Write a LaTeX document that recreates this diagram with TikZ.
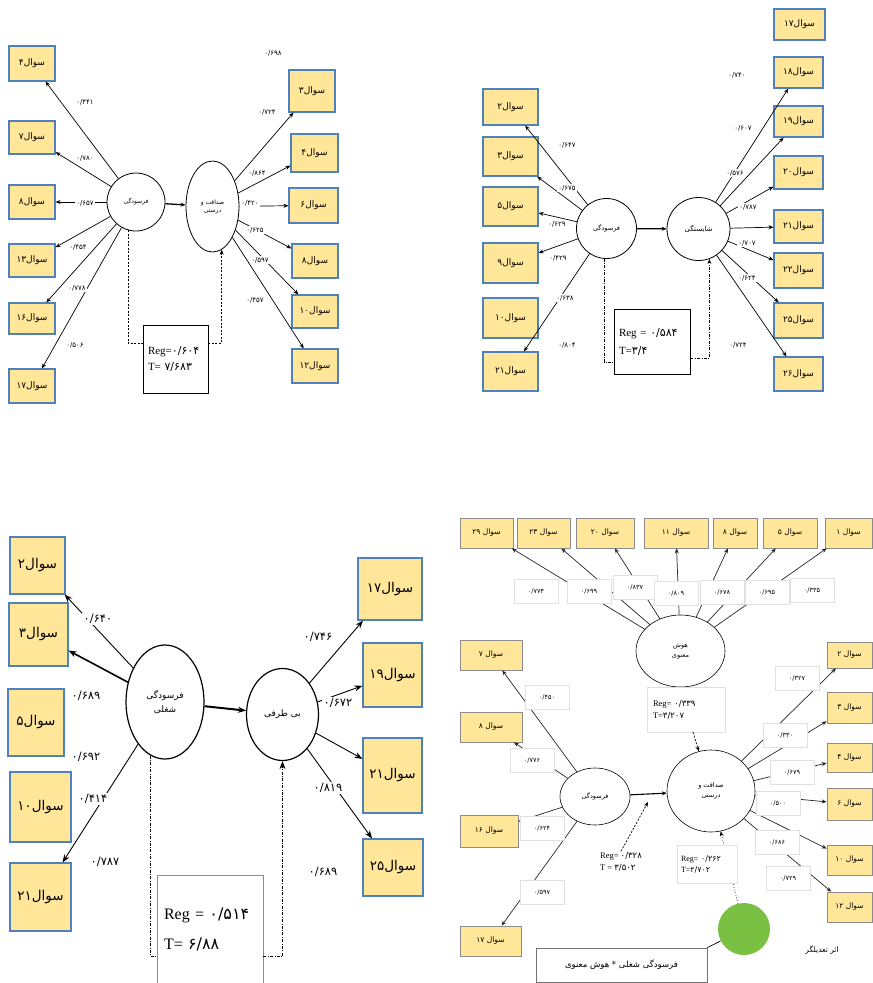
\documentclass[tikz,border=0pt]{standalone}
\usepackage{fontspec}
\setmainfont{Liberation Serif}
\newfontfamily\arabicfont[Script=Arabic]{DejaVu Sans}
\TeXXeTstate=1
\usetikzlibrary{arrows.meta,shapes.geometric,calc}
\definecolor{qfill}{RGB}{255,230,153}
\definecolor{qedge}{RGB}{79,129,189}
\definecolor{qgreen}{RGB}{122,192,66}
\newcommand\fa[1]{{\arabicfont\beginR #1\endR}}
\newcommand\fn[1]{{\arabicfont #1}}
\newcommand\sq[1]{{\arabicfont #1\beginR سوال\endR}}
\newcommand\sqs[1]{{\arabicfont #1 \beginR سوال\endR}}
\begin{document}
\begin{tikzpicture}[x=1pt,y=-1pt,
 qbox/.style={draw=qedge, fill=qfill, line width=1.1pt, inner sep=0pt},
 gbox/.style={draw=black!45, fill=qfill, line width=0.7pt, inner sep=0pt, font=\fontsize{7.5}{8}\selectfont},
 lv/.style={draw, ellipse, inner sep=0pt, align=center, line width=0.8pt},
 con/.style={line width=0.7pt},
 arr/.style={-{Stealth[length=5pt,width=4pt]}},
 bigarr/.style={-{Stealth[length=8pt,width=6pt]}},
 lbl/.style={fill=white, inner sep=1pt, font=\fontsize{7}{8}\selectfont},
 lblc/.style={fill=white, inner sep=1.5pt, font=\fontsize{11.5}{12}\selectfont},
 lbld/.style={fill=white, draw=black!12, inner sep=1pt, minimum width=44pt, minimum height=24pt, font=\fontsize{6.5}{7}\selectfont},
 dsh/.style={con, dash pattern=on 2pt off 1.5pt},
 dshd/.style={con, dash pattern=on 3pt off 1.5pt on 0.7pt off 1.5pt},
 f9/.style={font=\fontsize{9}{10}\selectfont},
 f13/.style={font=\fontsize{13.5}{14}\selectfont},
 regbox/.style={draw, line width=0.8pt, inner ysep=0pt, align=left},
]
\useasboundingbox (0,0) rectangle (873,983);

% ================= Panel 1 =================
\node[lv, minimum width=58pt, minimum height=58pt, font=\fontsize{6}{7}\selectfont] (c1) at (136,202) {\fa{فرسودگی}};
\node[lv, minimum width=53pt, minimum height=91pt, font=\fontsize{6}{8}\selectfont] (e1) at (212.5,206.5) {\fa{صداقت و}\\\fa{درستی}};
\node[qbox,f9,minimum width=46pt,minimum height=35pt] (p1a) at (32,63.5) {\sq{۴}};
\node[qbox,f9,minimum width=46pt,minimum height=33pt] (p1b) at (32,137.5) {\sq{۷}};
\node[qbox,f9,minimum width=46pt,minimum height=34pt] (p1c) at (32,202) {\sq{۸}};
\node[qbox,f9,minimum width=46pt,minimum height=33pt] (p1d) at (32,260.5) {\sq{۱۳}};
\node[qbox,f9,minimum width=46pt,minimum height=31pt] (p1e) at (32,318.5) {\sq{۱۶}};
\node[qbox,f9,minimum width=46pt,minimum height=34pt] (p1f) at (32,386) {\sq{۱۷}};
\node[qbox,f9,minimum width=46pt,minimum height=42pt] (p1g) at (312,91) {\sq{۳}};
\node[qbox,f9,minimum width=47pt,minimum height=38pt] (p1h) at (314.5,153) {\sq{۴}};
\node[qbox,f9,minimum width=49pt,minimum height=35pt] (p1i) at (313.5,205.5) {\sq{۶}};
\node[qbox,f9,minimum width=46pt,minimum height=34pt] (p1j) at (315,261) {\sq{۸}};
\node[qbox,f9,minimum width=46pt,minimum height=33pt] (p1k) at (315,311.5) {\sq{۱۰}};
\node[qbox,f9,minimum width=46pt,minimum height=34pt] (p1l) at (315,366) {\sq{۱۲}};
\node[regbox, text width=55pt, inner xsep=5pt, minimum height=68pt, font=\fontsize{11}{16}\selectfont] (r1) at (175.5,359) {Reg=\fn{۰/۶۰۴}\\T= \fn{۷/۶۸۳}};
\foreach \b in {p1a,p1b,p1c,p1d,p1e,p1f} \draw[con,arr] (c1) -- (\b);
\foreach \b in {p1g,p1h,p1i,p1j,p1k,p1l} \draw[con,arr] (e1) -- (\b);
\draw[line width=1.3pt,arr] (c1) -- (e1);
\draw[dsh] (c1.254) |- ([yshift=16pt]r1.west);
\draw[dsh,arr] ([yshift=16pt]r1.east) -| (e1.-78);
\node[lbl] (v1a) at (85,102) {\fn{۰/۴۴۱}};
\node[lbl] (v1b) at (85,158) {\fn{۰/۷۸۰}};
\node[lbl] (v1c) at (85,203) {\fn{۰/۶۵۷}};
\node[lbl] (v1d) at (78,247) {\fn{۰/۴۵۴}};
\node[lbl] (v1e) at (77,288) {\fn{۰/۷۷۸}};
\node[lbl] (v1f) at (75,345) {\fn{۰/۵۰۶}};
\node[lbl] (v1g) at (273,53) {\fn{۰/۶۹۸}};
\node[lbl] (v1h) at (267,112) {\fn{۰/۷۲۴}};
\node[lbl] (v1i) at (257,173) {\fn{۰/۸۶۴}};
\node[lbl] (v1j) at (250,203) {\fn{۰/۴۲۰}};
\node[lbl] (v1k) at (255,230) {\fn{۰/۶۲۵}};
\node[lbl] (v1l) at (260,260) {\fn{۰/۵۹۷}};
\node[lbl] (v1m) at (255,300) {\fn{۰/۴۵۷}};

% ================= Panel 2 =================
\node[lv, minimum width=60pt, minimum height=60pt, font=\fontsize{6.5}{7}\selectfont] (c2) at (606.5,228.5) {\fa{فرسودگی}};
\node[lv, minimum width=63pt, minimum height=63pt, font=\fontsize{7}{8}\selectfont] (s2) at (698.5,229) {\fa{شایستگی}};
\node[qbox,f9,minimum width=55pt,minimum height=36pt] (p2a) at (510.5,107) {\sq{۲}};
\node[qbox,f9,minimum width=55pt,minimum height=39pt] (p2b) at (510.5,156.5) {\sq{۳}};
\node[qbox,f9,minimum width=55pt,minimum height=39pt] (p2c) at (510.5,206.5) {\sq{۵}};
\node[qbox,f9,minimum width=55pt,minimum height=40pt] (p2d) at (510.5,263) {\sq{۹}};
\node[qbox,f9,minimum width=55pt,minimum height=40pt] (p2e) at (510.5,318) {\sq{۱۰}};
\node[qbox,f9,minimum width=55pt,minimum height=39pt] (p2f) at (510.5,371.5) {\sq{۲۱}};
\node[qbox,f9,minimum width=51pt,minimum height=31pt] (p2g) at (799.5,24.5) {\sq{۱۷}};
\node[qbox,f9,minimum width=49pt,minimum height=31pt] (p2h) at (798.5,72.5) {\sq{۱۸}};
\node[qbox,f9,minimum width=49pt,minimum height=31pt] (p2i) at (798.5,121.5) {\sq{۱۹}};
\node[qbox,f9,minimum width=49pt,minimum height=33pt] (p2j) at (798.5,172.5) {\sq{۲۰}};
\node[qbox,f9,minimum width=49pt,minimum height=33pt] (p2k) at (798.5,226.5) {\sq{۲۱}};
\node[qbox,f9,minimum width=49pt,minimum height=35pt] (p2l) at (798.5,270.5) {\sq{۲۲}};
\node[qbox,f9,minimum width=49pt,minimum height=35pt] (p2m) at (798.5,320.5) {\sq{۲۵}};
\node[qbox,f9,minimum width=49pt,minimum height=34pt] (p2n) at (798.5,374) {\sq{۲۶}};
\node[regbox, text width=66pt, inner xsep=5pt, minimum height=65pt, font=\fontsize{11}{18}\selectfont] (r2) at (652,341.5) {Reg = \fn{۰/۵۸۴}\\T=\fn{۳/۴}};
\foreach \b in {p2a,p2b,p2c,p2d,p2f} \draw[con,arr] (c2) -- (\b);
\foreach \b in {p2h,p2i,p2j,p2k,p2l,p2m,p2n} \draw[con,arr] (s2) -- (\b);
\draw[line width=1.3pt,arr] (c2) -- (s2);
\draw[dshd] (c2.265) |- ([yshift=-20.5pt]r2.west);
\draw[dshd,arr] ([yshift=-16.5pt]r2.east) -| (s2.-70);
\node[lbl] (v2a) at (567,145) {\fn{۰/۶۴۷}};
\node[lbl] (v2b) at (567,188) {\fn{۰/۶۷۵}};
\node[lbl] (v2c) at (557,224) {\fn{۰/۶۲۹}};
\node[lbl] (v2d) at (558,258) {\fn{۰/۴۲۹}};
\node[lbl] (v2e) at (565,298) {\fn{۰/۶۳۸}};
\node[lbl] (v2f) at (567,345) {\fn{۰/۸۰۴}};
\node[lbl] (v2g) at (737,75) {\fn{۰/۷۴۰}};
\node[lbl] (v2h) at (743,128) {\fn{۰/۶۰۷}};
\node[lbl] (v2i) at (735,173) {\fn{۰/۵۷۶}};
\node[lbl] (v2j) at (748,207) {\fn{۰/۷۸۷}};
\node[lbl] (v2k) at (747,243) {\fn{۰/۷۰۷}};
\node[lbl] (v2l) at (747,278) {\fn{۰/۶۲۴}};
\node[lbl] (v2m) at (738,345) {\fn{۰/۷۲۴}};

% ================= Panel 3 =================
\node[lv, line width=1.2pt, minimum width=78pt, minimum height=114pt, font=\fontsize{9}{14}\selectfont] (f3) at (165,702) {\fa{فرسودگی}\\\fa{شغلی}};
\node[lv, line width=1.2pt, minimum width=72pt, minimum height=92pt, font=\fontsize{9}{10}\selectfont] (b3) at (282.5,714.5) {\fa{بی طرفی}};
\node[qbox,f13,minimum width=55pt,minimum height=57pt] (p3a) at (37.5,565.5) {\sq{۲}};
\node[qbox,f13,minimum width=59pt,minimum height=63pt] (p3b) at (38.5,634.5) {\sq{۳}};
\node[qbox,f13,minimum width=56pt,minimum height=67pt] (p3c) at (36,722.5) {\sq{۵}};
\node[qbox,f13,minimum width=61pt,minimum height=70pt] (p3d) at (40.5,807) {\sq{۱۰}};
\node[qbox,f13,minimum width=61pt,minimum height=68pt] (p3e) at (40.5,897) {\sq{۲۱}};
\node[qbox,f13,minimum width=64pt,minimum height=62pt] (p3f) at (390,589) {\sq{۱۷}};
\node[qbox,f13,minimum width=59pt,minimum height=64pt] (p3g) at (392.5,675) {\sq{۱۹}};
\node[qbox,f13,minimum width=59pt,minimum height=75pt] (p3h) at (392.5,775.5) {\sq{۲۱}};
\node[qbox,f13,minimum width=60pt,minimum height=57pt] (p3i) at (393,867.5) {\sq{۲۵}};
\node[regbox, draw=black!45, text width=92pt, inner xsep=7pt, minimum height=108pt, font=\fontsize{16}{30}\selectfont] (r3) at (210,929) {Reg = \fn{۰/۵۱۴}\\T= \fn{۶/۸۸}};
\draw[line width=0.9pt,bigarr] (f3) -- (p3a);
\draw[line width=1.6pt,bigarr] (f3) -- (p3b);
\draw[line width=0.9pt,bigarr] (f3) -- (p3e);
\foreach \b in {p3f,p3g,p3h,p3i} \draw[line width=0.9pt,bigarr] (b3) -- (\b);
\draw[line width=2pt,bigarr] (f3) -- (b3);
\draw[dshd] (f3.255) |- ([yshift=-27.5pt]r3.west);
\draw[dshd,bigarr] ([yshift=-27.5pt]r3.east) -| (b3.south);
\node[lblc] (v3a) at (98,619) {\fn{۰/۶۴۰}};
\node[lblc] (v3b) at (86,696) {\fn{۰/۶۸۹}};
\node[lblc] (v3c) at (86,757) {\fn{۰/۶۹۲}};
\node[lblc] (v3d) at (93,799) {\fn{۰/۴۱۴}};
\node[lblc] (v3e) at (105,862) {\fn{۰/۷۸۷}};
\node[lblc] (v3f) at (318,637) {\fn{۰/۷۴۶}};
\node[lblc] (v3g) at (338,703) {\fn{۰/۶۷۲}};
\node[lblc] (v3h) at (328,788) {\fn{۰/۸۱۹}};
\node[lblc] (v3i) at (323,872) {\fn{۰/۶۸۹}};

% ================= Panel 4 =================
\node[lv, line width=0.6pt, minimum width=89pt, minimum height=72pt, font=\fontsize{6.5}{10}\selectfont] (h4) at (680.5,651) {\fa{هوش}\\\fa{معنوی}};
\node[lv, line width=0.6pt, minimum width=70pt, minimum height=57pt, font=\fontsize{6.5}{7}\selectfont] (fa4) at (595,796.5) {\fa{فرسودگی}};
\node[lv, line width=0.6pt, minimum width=88pt, minimum height=82pt, font=\fontsize{6.5}{10}\selectfont] (sd4) at (711,791) {\fa{صداقت و}\\\fa{درستی}};
\node[gbox,minimum width=53pt,minimum height=30pt] (t1) at (486.5,533) {\sqs{۲۹}};
\node[gbox,minimum width=53pt,minimum height=30pt] (t2) at (543.5,533) {\sqs{۲۳}};
\node[gbox,minimum width=58pt,minimum height=30pt] (t3) at (605,533) {\sqs{۲۰}};
\node[gbox,minimum width=64pt,minimum height=30pt] (t4) at (676,533) {\sqs{۱۱}};
\node[gbox,minimum width=44pt,minimum height=30pt] (t5) at (735,533) {\sqs{۸}};
\node[gbox,minimum width=54pt,minimum height=30pt] (t6) at (790,533) {\sqs{۵}};
\node[gbox,minimum width=47pt,minimum height=30pt] (t7) at (848.5,533) {\sqs{۱}};
\node[gbox,minimum width=62pt,minimum height=30pt] (l1) at (491,655) {\sqs{۷}};
\node[gbox,minimum width=62pt,minimum height=30pt] (l2) at (491,727) {\sqs{۸}};
\node[gbox,minimum width=58pt,minimum height=32pt] (l3) at (489,831) {\sqs{۱۶}};
\node[gbox,minimum width=61pt,minimum height=30pt] (l4) at (490.5,941) {\sqs{۱۷}};
\node[gbox,minimum width=45pt,minimum height=26pt] (q1) at (849.5,655) {\sqs{۲}};
\node[gbox,minimum width=45pt,minimum height=31pt] (q2) at (849.5,707.5) {\sqs{۳}};
\node[gbox,minimum width=45pt,minimum height=29pt] (q3) at (849.5,757.5) {\sqs{۴}};
\node[gbox,minimum width=45pt,minimum height=32pt] (q4) at (849.5,804) {\sqs{۶}};
\node[gbox,minimum width=45pt,minimum height=30pt] (q5) at (849.5,860) {\sqs{۱۰}};
\node[gbox,minimum width=45pt,minimum height=30pt] (q6) at (849.5,907) {\sqs{۱۲}};
\node[circle, fill=qgreen, minimum size=52pt, inner sep=0pt] (g) at (744,929) {};
\node[draw=black!55, line width=0.7pt, minimum width=171pt, minimum height=34pt, inner sep=0pt, font=\fontsize{8.5}{9}\selectfont] (mbox) at (621.5,965) {\fa{فرسودگی شغلی * هوش معنوی}};
\node[font=\fontsize{7.5}{8}\selectfont] (moder) at (822,950) {\fa{اثر تعدیلگر}};
\node[fill=white, draw=black!12, text width=66pt, inner xsep=6pt, minimum height=45pt, align=left, font=\fontsize{8.5}{12}\selectfont] (r4a) at (686,709.5) {Reg= \fn{۰/۳۳۹}\\T=\fn{۳/۲۰۷}};
\coordinate (m4) at (648,802);
\foreach \b in {t1,t2,t3,t4,t5,t6,t7} \draw[con,arr,black!85] (h4) -- (\b);
\foreach \b in {l1,l2,l3,l4} \draw[con,arr,black!85] (fa4) -- (\b);
\foreach \b in {q1,q2,q3,q4,q5,q6} \draw[con,arr,black!85] (sd4) -- (\b);
\draw[line width=1.1pt,arr] (fa4) -- (sd4);
\draw[con] (h4) -- (r4a);
\draw[dsh,arr] (r4a) -- (sd4);
\draw[con,dotted,arr] (g) -- (sd4);
\draw[con] (mbox.north east) -- (g);
\node[align=left, inner sep=1pt, font=\fontsize{8.5}{12}\selectfont] (r4b) at (621,862) {Reg= \fn{۰/۳۲۸}\\T = \fn{۳/۵۰۲}};
\draw[dsh,arr] (r4b.north) -- (m4);
\node[fill=white, draw=black!12, text width=52pt, inner xsep=4pt, minimum height=38pt, align=left, font=\fontsize{8}{11}\selectfont] (r4c) at (707,864) {Reg= \fn{۰/۲۶۲}\\T=\fn{۲/۷۰۲}};
\node[lbld] (w1) at (536,591) {\fn{۰/۷۷۴}};
\node[lbld] (w2) at (589,591) {\fn{۰/۶۹۹}};
\node[lbld] (w3) at (635,587) {\fn{۰/۸۳۷}};
\node[lbld] (w4) at (676,593) {\fn{۰/۸۰۹}};
\node[lbld] (w5) at (722,592) {\fn{۰/۶۷۸}};
\node[lbld] (w6) at (767,592) {\fn{۰/۶۹۵}};
\node[lbld] (w7) at (812,590) {\fn{۰/۳۳۵}};
\node[lbld] (w8) at (547,697) {\fn{۰/۴۵۰}};
\node[lbld] (w9) at (532,760) {\fn{۰/۷۷۶}};
\node[lbld] (w10) at (542,828) {\fn{۰/۶۲۴}};
\node[lbld] (w11) at (542,892) {\fn{۰/۵۹۷}};
\node[lbld] (w12) at (797,678) {\fn{۰/۳۲۷}};
\node[lbld] (w13) at (785,735) {\fn{۰/۳۳۰}};
\node[lbld] (w14) at (792,772) {\fn{۰/۶۷۹}};
\node[lbld] (w15) at (778,803) {\fn{۰/۵۰۰}};
\node[lbld] (w16) at (777,842) {\fn{۰/۶۸۶}};
\node[lbld] (w17) at (788,878) {\fn{۰/۷۲۹}};
\end{tikzpicture}
\end{document}
